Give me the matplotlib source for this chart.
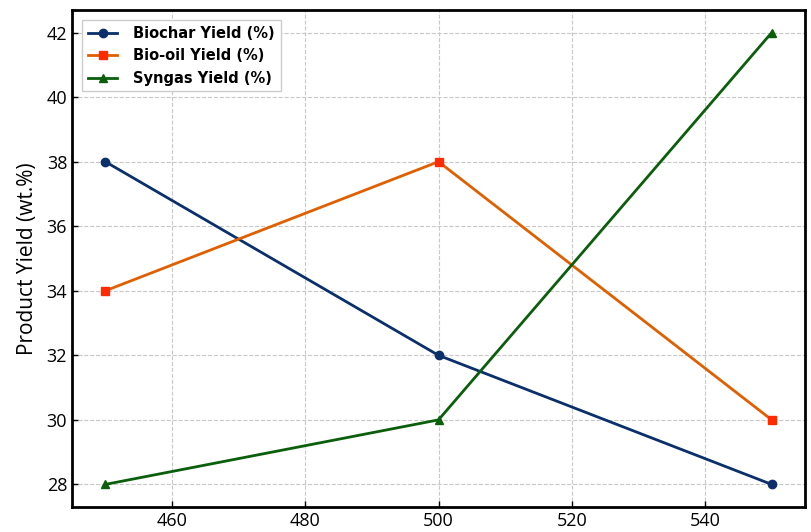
import matplotlib
matplotlib.use("Agg")
import matplotlib.pyplot as plt

temps = [450, 500, 550]
biochar = [38, 32, 28]
biooil = [34, 38, 30]
syngas = [28, 30, 42]
yticks = [28, 30, 32, 34, 36, 38, 40, 42]
xticks = [460, 480, 500, 520, 540]

plt.rcParams['font.family'] = ['Open Sans', 'DejaVu Sans']
fig = plt.figure(figsize=(8.11, 5.32), dpi=100)
ax = fig.add_axes([72/811, 25/532, 733/811, 497/532])

ax.plot(temps, biochar, color='#0a2f6b', marker='o', markersize=6, lw=2, label='Biochar Yield (%)')
ax.plot(temps, biooil, color='#e06000', marker='s', markersize=6, markerfacecolor='#ff2a00',
        markeredgecolor='#ff2a00', lw=2, label='Bio-oil Yield (%)')
ax.plot(temps, syngas, color='#0b5e0b', marker='^', markersize=6, lw=2, label='Syngas Yield (%)')

ax.set_xlim(445, 555)
ax.set_ylim(27.3, 42.7)
ax.set_xticks(xticks)
ax.set_yticks(yticks)
ax.tick_params(direction='in', labelsize=13, length=4, width=1)
ax.set_ylabel('Product Yield (wt.%)', fontsize=15, labelpad=6)
ax.grid(True, linestyle='--', color='#c8c8c8', linewidth=0.8)
for s in ax.spines.values():
    s.set_linewidth(2)
leg = ax.legend(loc='upper left', prop={'family': 'DejaVu Sans', 'size': 10.5, 'weight': 'bold'},
                frameon=True, fancybox=False, framealpha=1, edgecolor='#cccccc',
                borderaxespad=0.7, handletextpad=1.1)
fig.savefig('out.png', dpi=100)
